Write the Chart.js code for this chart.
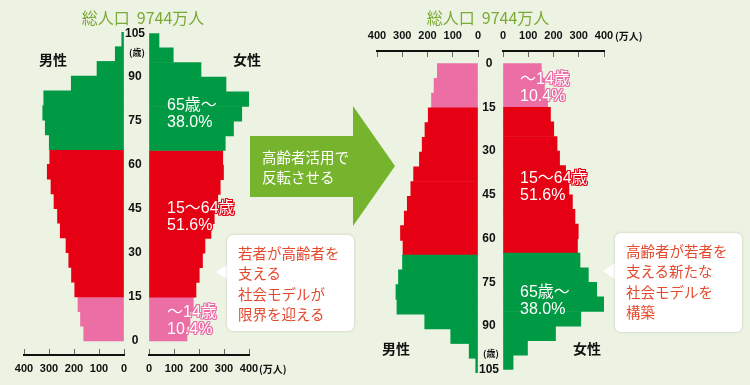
<!DOCTYPE html>
<html lang="ja">
<head>
<meta charset="UTF-8">
<title>人口ピラミッド 総人口 9744万人</title>
<script src="https://cdn.jsdelivr.net/npm/chart.js"></script>
<style>
  body { margin: 0; background: #edf3e2; }
  #stage { position: relative; width: 750px; height: 385px; overflow: hidden; background: #edf3e2;
           font-family: 'Liberation Sans', 'Noto Sans CJK JP', sans-serif; }
  .box { position: absolute; }
  .t { position: absolute; white-space: nowrap; line-height: 1; transform: translateY(-50%); }
  .c { transform: translate(-50%, -50%); }
  .title { font-family: 'Noto Sans CJK JP', sans-serif; font-size: 16px; color: #7aaa36; }
  .sex { font-family: 'Noto Sans CJK JP', sans-serif; font-size: 14px; font-weight: bold; color: #111; }
  .unit { font-family: 'Noto Sans CJK JP', sans-serif; font-size: 10px; font-weight: bold; color: #111; }
  .pct { font-size: 16px; color: #fff; line-height: 16.5px; transform: none; }
  .arrow { position: absolute; left: 250px; top: 106px; width: 145px; height: 120px; background: #77b42d;
           clip-path: polygon(0 30px, 103px 30px, 103px 0, 145px 60px, 103px 120px, 103px 91px, 0 91px); }
  .arrowtxt { position: absolute; left: 262px; top: 147px; color: #fff; font-family: 'Noto Sans CJK JP', sans-serif;
              font-size: 14.5px; line-height: 20px; }
  .bubble { position: absolute; background: #fff; border-radius: 6px; box-shadow: 0 0 3px rgba(0,0,0,0.18);
            font-family: 'Noto Sans CJK JP', sans-serif; font-size: 14.5px; line-height: 20.3px; color: #e34a2e;
            box-sizing: border-box; padding: 8px 0 0 11px; }
  .tip { position: absolute; width: 12px; height: 16px; background: #fff; }
</style>
</head>
<body>
<div id="stage">
  <!-- 左：現在のピラミッド -->
  <div class="box" style="left:4px; top:22px; width:126px; height:359px;"><canvas id="leftMale"></canvas></div>
  <div class="box" style="left:124px; top:22px; width:153px; height:359px;"><canvas id="leftFemale"></canvas></div>
  <div class="t c title" style="left:143px; top:17px;">総人口&nbsp; 9744万人</div>
  <div class="t sex" style="left:39px; top:59px;">男性</div>
  <div class="t sex" style="left:233px; top:59px;">女性</div>
  <div class="t c unit" style="left:137px; top:52px; font-size:9px;">(歳)</div>
  <div class="t unit" style="left:259px; top:369px;">(万人)</div>

  <!-- 右：反転後のピラミッド -->
  <div class="box" style="left:367px; top:25px; width:117px; height:356px;"><canvas id="rightMale"></canvas></div>
  <div class="box" style="left:478px; top:25px; width:154px; height:356px;"><canvas id="rightFemale"></canvas></div>
  <div class="t c title" style="left:488px; top:17px;">総人口&nbsp; 9744万人</div>
  <div class="t sex" style="left:382px; top:348px;">男性</div>
  <div class="t sex" style="left:573px; top:348px;">女性</div>
  <div class="t c unit" style="left:491px; top:353px; font-size:9px;">(歳)</div>
  <div class="t unit" style="left:615px; top:36px;">(万人)</div>

  <!-- 帯の割合 -->
  <div class="t pct" id="lOld" style="left:167px; top:97px;">65歳～<br>38.0%</div>
  <div class="t pct" id="lMid" style="left:167px; top:200px;">15～64歳<br>51.6%</div>
  <div class="t pct" id="lYoung" style="left:167px; top:304px;">～14歳<br>10.4%</div>
  <div class="t pct" id="rYoung" style="left:520px; top:71px;">～14歳<br>10.4%</div>
  <div class="t pct" id="rMid" style="left:520px; top:170px;">15～64歳<br>51.6%</div>
  <div class="t pct" id="rOld" style="left:520px; top:284px;">65歳～<br>38.0%</div>

  <!-- 矢印 -->
  <div class="arrow"></div>
  <div class="arrowtxt">高齢者活用で<br>反転させる</div>

  <!-- 吹き出し -->
  <div class="tip" style="left:216px; top:264px; clip-path: polygon(0 8px, 12px 0, 12px 16px);"></div>
  <div class="bubble" style="left:227px; top:235px; width:127px; height:96px;">若者が高齢者を<br>支える<br>社会モデルが<br>限界を迎える</div>
  <div class="tip" style="left:603px; top:263px; clip-path: polygon(0 8px, 12px 0, 12px 16px);"></div>
  <div class="bubble" style="left:615px; top:233px; width:127px; height:99px;">高齢者が若者を<br>支える新たな<br>社会モデルを<br>構築</div>
</div>

<script>
// 5歳階級（0-4 … 100-104）
const ageStarts = [0, 5, 10, 15, 20, 25, 30, 35, 40, 45, 50, 55, 60, 65, 70, 75, 80, 85, 90, 95, 100];
// 人口（万人）
const male   = [161, 174, 184, 197, 210, 221, 232, 255, 266, 280, 292, 307, 297, 299, 315, 325, 321, 211, 108, 35, 9];
const female = [152, 164, 177, 188, 201, 214, 224, 248, 261, 275, 285, 298, 295, 305, 338, 371, 403, 308, 208, 97, 40];
const ageTicks = [0, 15, 30, 45, 60, 75, 90, 105];
const popTicks = [0, 100, 200, 300, 400];

const PINK = '#eb6ea4', RED = '#e60013', GREEN = '#009a44';
function bandColor(a) { return a < 15 ? PINK : (a < 65 ? RED : GREEN); }

// 帯ラベルの縁取り
function outline(id, c) {
  document.getElementById(id).style.textShadow =
    `1px 0 0 ${c}, -1px 0 0 ${c}, 0 1px 0 ${c}, 0 -1px 0 ${c}, 1px 1px 0 ${c}, -1px -1px 0 ${c}, 1px -1px 0 ${c}, -1px 1px 0 ${c}`;
}
outline('lOld', GREEN); outline('rOld', GREEN);
outline('lMid', RED); outline('rMid', RED);
outline('lYoung', PINK); outline('rYoung', PINK);

const numFont = { family: "'Liberation Sans', sans-serif", size: 11, weight: 'bold' };

function halfPyramid(id, values, isMale, flipped, padding) {
  new Chart(document.getElementById(id), {
    type: 'bar',
    data: {
      datasets: [{
        data: ageStarts.map((a, i) => ({ x: values[i], y: a + 2.5 })),
        backgroundColor: ageStarts.map(bandColor),
        borderWidth: 0,
        barPercentage: 1,
        categoryPercentage: 1
      }]
    },
    options: {
      indexAxis: 'y',
      responsive: true,
      maintainAspectRatio: false,
      animation: false,
      layout: { padding: padding },
      plugins: { legend: { display: false }, tooltip: { enabled: false } },
      scales: {
        x: {
          type: 'linear',
          position: flipped ? 'top' : 'bottom',
          min: 0, max: 400,
          reverse: isMale,
          afterBuildTicks: s => { s.ticks = popTicks.map(v => ({ value: v })); },
          afterFit: s => { s.height = 26; },
          border: { display: true, color: '#111', width: 2 },
          grid: { display: true, drawOnChartArea: false, drawTicks: true, tickLength: -6, tickColor: '#666', tickWidth: 1 },
          ticks: { padding: flipped ? 14 : 13, color: '#111', font: numFont, maxRotation: 0, autoSkip: false }
        },
        y: {
          type: 'linear',
          position: 'left',
          display: !isMale,
          offset: false,
          min: flipped ? -4.3 : -4.76, max: 105,
          reverse: flipped,
          afterBuildTicks: s => { s.ticks = ageTicks.map(v => ({ value: v })); },
          afterFit: s => { s.width = isMale ? 0 : 25; },
          border: { display: false },
          grid: { display: false, drawTicks: false, offset: false },
          ticks: { crossAlign: 'center', padding: 4, color: '#111', font: { ...numFont, size: 12 }, autoSkip: false }
        }
      }
    }
  });
}

halfPyramid('leftMale', male, true, false, { left: 20, right: 6, top: 10, bottom: 0 });
halfPyramid('leftFemale', female, false, false, { left: 0, right: 28, top: 10, bottom: 0 });
halfPyramid('rightMale', male, true, true, { left: 10, right: 6, top: 0, bottom: 8 });
halfPyramid('rightFemale', female, false, true, { left: 0, right: 28, top: 0, bottom: 8 });
</script>
</body>
</html>
